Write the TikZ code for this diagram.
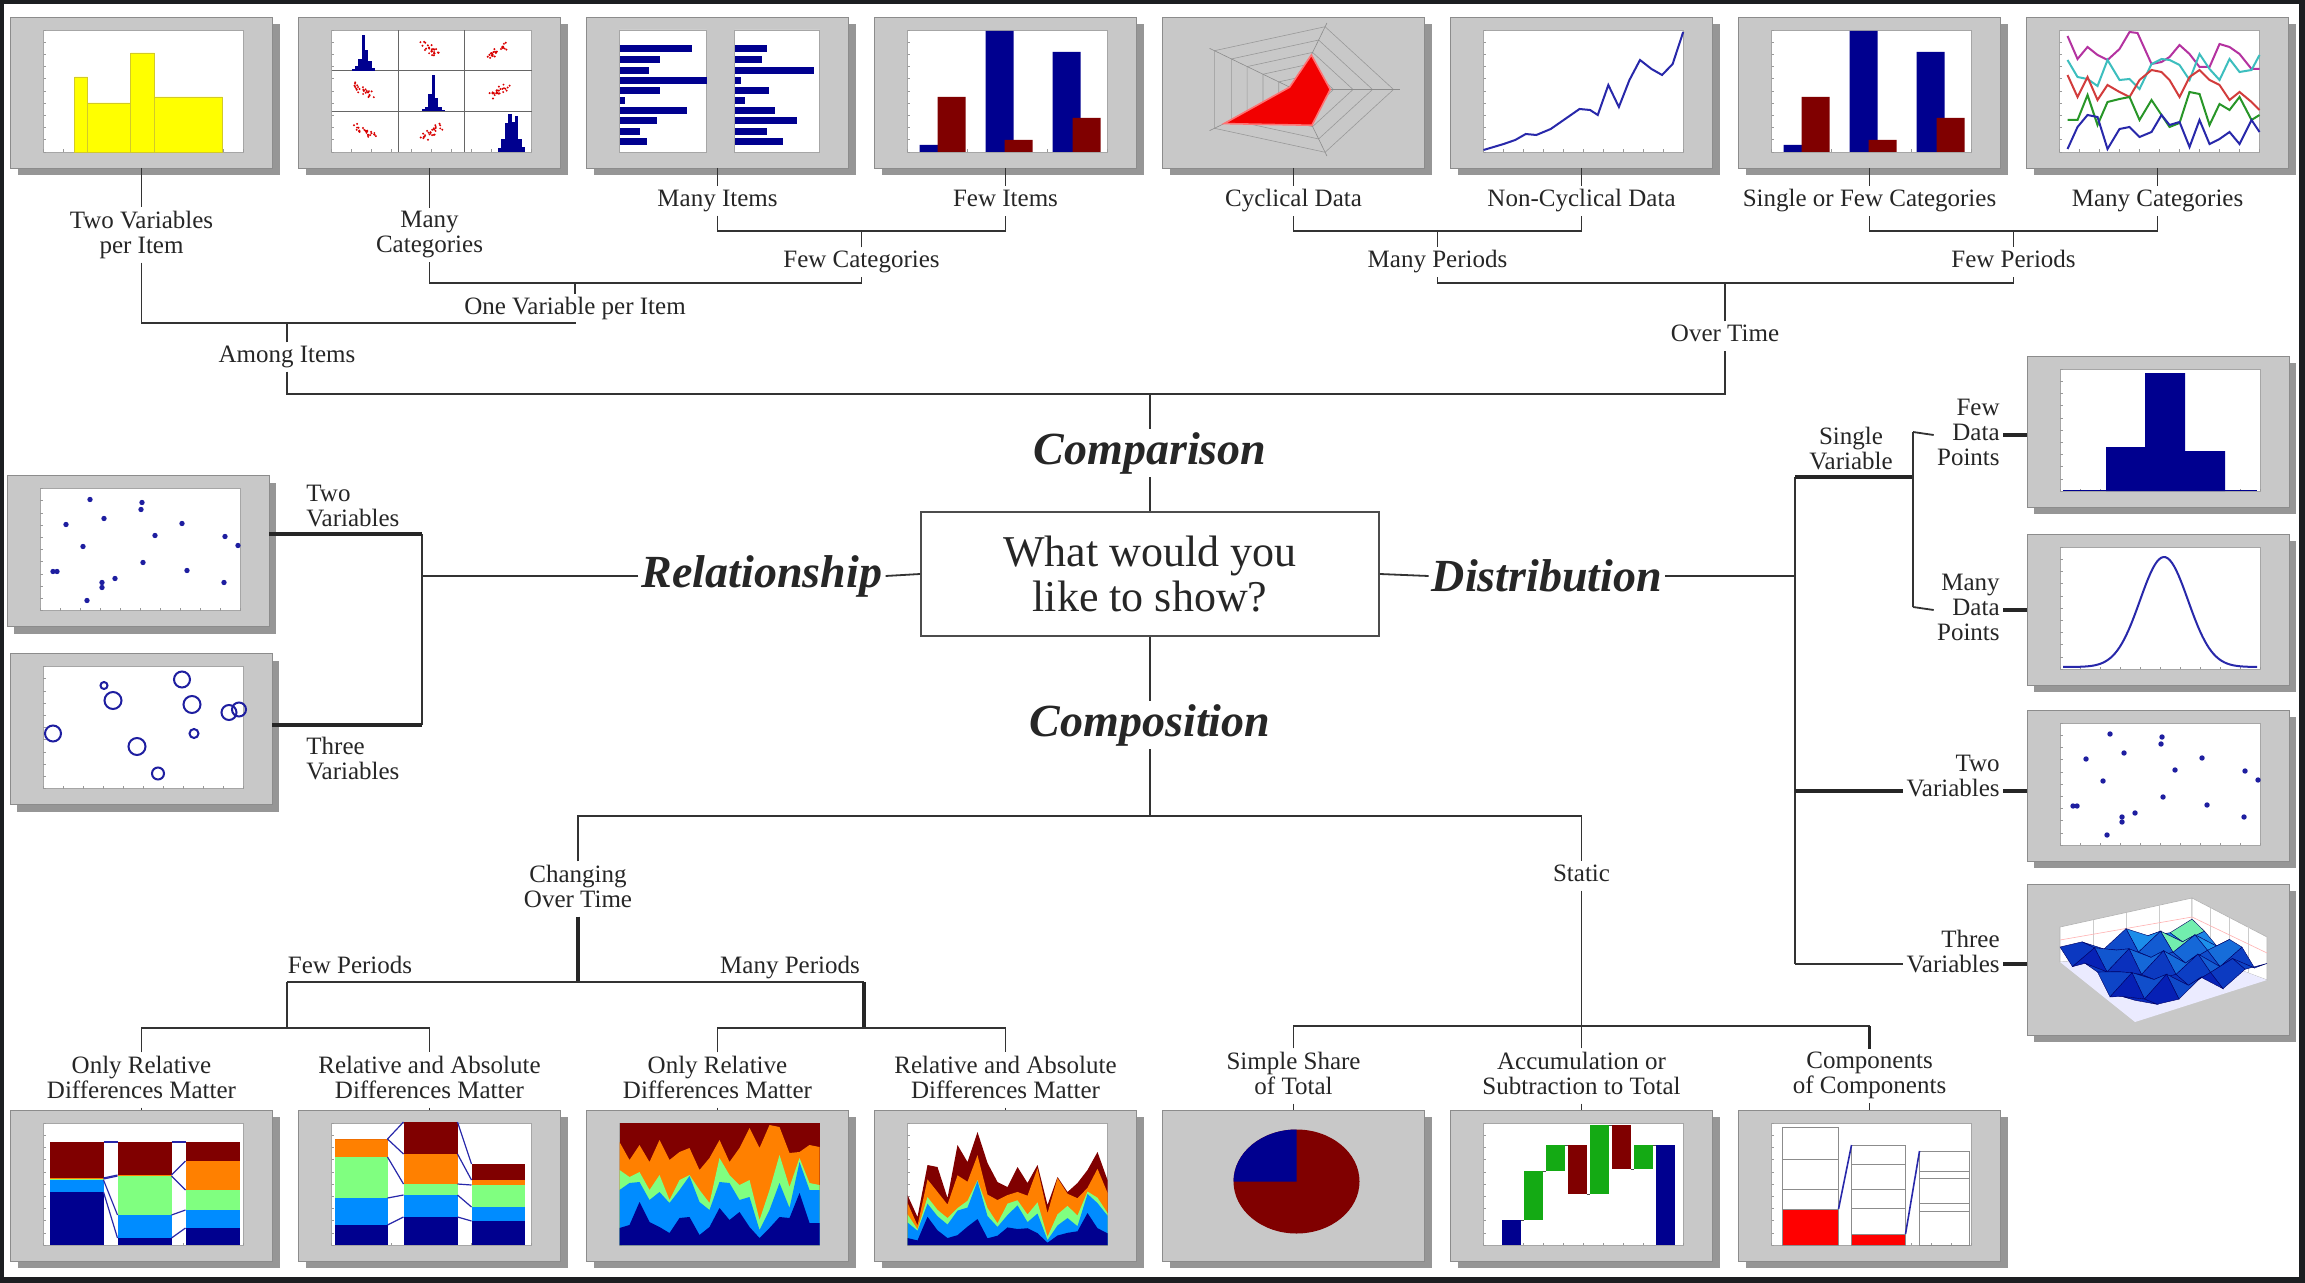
\documentclass[tikz,border=0pt]{standalone}
\usepackage{fontspec}
\setmainfont{Liberation Serif}
\usetikzlibrary{shadows}
\definecolor{navyc}{RGB}{0,0,143}
\definecolor{lbluec}{RGB}{0,140,255}
\definecolor{cyanc}{RGB}{40,200,240}
\definecolor{lgreenc}{RGB}{128,255,128}
\definecolor{orangec}{RGB}{255,128,0}
\definecolor{dredc}{RGB}{128,0,0}
\definecolor{framegray}{RGB}{200,200,200}
\definecolor{shadowgray}{RGB}{150,150,150}
\definecolor{bordark}{RGB}{28,30,33}
\definecolor{dotblue}{RGB}{30,30,160}
\definecolor{wfgreen}{RGB}{20,170,20}
\definecolor{linemag}{RGB}{180,50,160}
\definecolor{linecyan}{RGB}{60,190,190}
\definecolor{linered}{RGB}{210,60,60}
\definecolor{linegreen}{RGB}{40,150,40}
\definecolor{lineblue}{RGB}{40,40,170}
\definecolor{yellowc}{RGB}{255,255,0}
\pgfmathdeclarefunction{sfx}{2}{\pgfmathparse{(1-#1)*(1-#2)*33+#1*(1-#2)*165+#1*#2*240+(1-#1)*#2*108}}
\pgfmathdeclarefunction{sfy}{2}{\pgfmathparse{(1-#1)*(1-#2)*73+#1*(1-#2)*83+#1*#2*55+(1-#1)*#2*13}}
\pgfmathdeclarefunction{sfh}{2}{\pgfmathparse{5+20*(1+sin(#1*137+#2*251))/2*(0.5+0.5*abs(cos(#1*71+#2*113)))+14*#1/6*(1-#2/6)}}
\newcommand\plotbg{%
  \fill[white] (0,0) rectangle (200,122);
  \draw[black!35, line width=0.3pt] (0,0) rectangle (200,122);
  \foreach \k in {0,...,10} {\draw[black!40, line width=0.3pt] ({\k*20},0) -- ++(0,2.5); \draw[black!40, line width=0.3pt] (0,{\k*12.2}) -- ++(2.5,0);}}
\newcommand\stackbar[7]{%
  \fill[navyc] (#1,0) rectangle (#2,#3);
  \fill[lbluec] (#1,#3) rectangle (#2,#4);
  \fill[lgreenc] (#1,#4) rectangle (#2,#5);
  \fill[orangec] (#1,#5) rectangle (#2,#6);
  \fill[dredc] (#1,#6) rectangle (#2,#7);}
\newcommand\stacklinks[3]{\foreach \a/\b in {#3} {\draw[lineblue, line width=0.6pt] (#1,\a) -- (#2,\b);}}
\newcommand\scatterpts{\foreach \p in {(50,111),(102,108),(101,101),(26,86),(64,92),(142,87),(115,75),(185,74),(198,65),(43,64),(13,39),(17,39),(103,48),(147,40),(62,28),(62,23),(75,32),(184,28),(47,10)} {\fill[dotblue] \p circle (2.7);}}
\def\anav{{17,20,43,23,18,12,27,28,10,18,37,25,33,18,7,17,28,27,52,22,22}}
\def\ablu{{55,62,63,45,53,42,55,69,43,35,63,62,45,48,15,35,62,37,83,55,55}}
\def\agrn{{75,68,73,55,70,45,65,70,55,42,87,70,60,65,25,55,90,58,87,62,60}}
\def\aorg{{103,85,100,83,105,85,93,97,75,87,105,83,97,117,97,120,118,92,93,100,98}}
\def\atot{{50,28,80,78,47,100,83,113,82,63,58,78,62,80,40,68,53,62,75,93,65}}
\begin{document}
\begin{tikzpicture}[x=0.5pt,y=-0.5pt,
  thumb/.style={draw=black!45, line width=0.4pt, fill=framegray, minimum width=131pt, minimum height=75.5pt, inner sep=0pt, outer sep=0pt, drop shadow={shadow xshift=3.5pt, shadow yshift=-3.5pt, fill=shadowgray, opacity=1}},
  lbl/.style={font=\fontsize{12.5}{12.5}\selectfont, align=center, inner sep=1.5pt, text depth=3pt, yshift=-1.5pt, text=black!85},
  big/.style={font=\fontsize{23}{26}\selectfont\bfseries\itshape, inner sep=1.5pt, text=black!85},
  qbox/.style={draw=black!70, line width=0.9pt, minimum width=229pt, minimum height=62pt, align=center, font=\fontsize{22}{22.5}\selectfont, text=black!85},
  conn/.style={line width=0.9pt, draw=black!80},
  connb/.style={line width=1.7pt, draw=black!85},
  plotin/.style={shift={(#1.south west)}, xshift=16.5pt, yshift=8pt, y=0.5pt},
  centerin/.style={shift={(#1.center)}, y=0.5pt},
  framein/.style={shift={(#1.south west)}, y=0.5pt}]
\useasboundingbox (0,0) rectangle (2305,1283);
\fill[bordark] (0,0) rectangle (2305,1283);
\fill[white] (4,4) rectangle (2299,1277);

% ---------------- thumbnails ----------------
\foreach \n/\xx in {1/141.5,2/429.5,3/717.5,4/1005.5,5/1293.5,6/1581.5,7/1869.5,8/2157.5}
  {\node[thumb] (t\n) at (\xx,92.5) {};}
\node[thumb] (r1) at (138,551) {};
\node[thumb] (r2) at (141,729) {};
\foreach \n/\yy in {1/431.5,2/609.5,3/785.5,4/959.5}
  {\node[thumb] (d\n) at (2158,\yy) {};}
\foreach \n/\xx in {1/141.5,2/429.5,3/717.5,4/1005.5,5/1293.5,6/1581.5,7/1869.5}
  {\node[thumb] (bb\n) at (\xx,1185.5) {};}

% T1 histogram
\begin{scope}[plotin=t1]
\plotbg
\fill[yellowc, draw=yellow!80!black, line width=0.3pt] (31,0) rectangle (44,75) (44,0) rectangle (87,49) (87,0) rectangle (111,99) (111,0) rectangle (179,55);
\end{scope}
% T2 scatter matrix
\begin{scope}[plotin=t2]
\plotbg
\draw[black!60, line width=0.5pt] (66.7,0) -- (66.7,122) (133.3,0) -- (133.3,122) (0,40.7) -- (200,40.7) (0,81.3) -- (200,81.3);
\foreach \f/\g in {.30/.05,.35/.12,.40/.3,.45/.95,.50/.55,.55/.25,.60/.08} {\fill[navyc] ({\f*66.7},81.3) rectangle ++(3.4,{\g*38});}
\foreach \f/\g in {.35/.05,.40/.12,.45/.45,.50/.95,.55/.35,.60/.1,.65/.04} {\fill[navyc] ({66.7+\f*66.7},40.7) rectangle ++(3.4,{\g*38});}
\foreach \f/\g in {.50/.1,.55/.35,.60/.75,.65/1,.70/.8,.75/.95,.80/.35,.85/.12} {\fill[navyc] ({133.3+\f*66.7},0) rectangle ++(3.4,{\g*38});}
\pgfmathsetseed{42}
\foreach \cx/\cy/\s in {100/101.7/0,166.7/101.7/1,33.3/61/0,166.7/61/1,33.3/20.3/0,100/20.3/1} {
  \foreach \k in {1,...,26} {
    \pgfmathsetmacro\u{rand}\pgfmathsetmacro\v{rand}\pgfmathsetmacro\w{rand}
    \fill[red!85!black] ({\cx+9*\u+3*\v},{\cy+(\s*2-1)*6*\u+4*\w}) circle (1.1);
  }}
\end{scope}
% T3 horizontal bars
\begin{scope}[plotin=t3]
\fill[white, draw=black!35, line width=0.3pt] (0,0) rectangle (87,122) (115,0) rectangle (200,122);
\foreach \yy/\la/\lb in {103/.83/.38,92/.47/.32,81/.34/.93,71/1.0/.08,61/.47/.41,51/.06/.12,41/.77/.48,31/.43/.74,20/.23/.38,10/.32/.57} {
  \fill[navyc] (0,{\yy-3.5}) rectangle ({87*\la},{\yy+3.5});
  \fill[navyc] (115,{\yy-3.5}) rectangle ({115+85*\lb},{\yy+3.5});
}
\end{scope}
% T4 and T7 grouped bars
\foreach \tn in {t4,t7} {
\begin{scope}[plotin=\tn]
\plotbg
\fill[navyc] (12,0) rectangle (40,7) (78,0) rectangle (106,121) (145,0) rectangle (173,100);
\fill[dredc] (30,0) rectangle (58,55) (97,0) rectangle (125,12) (165,0) rectangle (193,34);
\end{scope}}
% T5 radar
\begin{scope}[centerin=t5]
\begin{scope}[xshift=0.5pt, yshift=1.5pt, xscale=1.5]
\foreach \r in {13,26,39,52,66} {\draw[black!40, line width=0.3pt] (0:\r) -- (72:\r) -- (144:\r) -- (216:\r) -- (288:\r) -- cycle;}
\foreach \a in {0,72,144,216,288} {\draw[black!45, line width=0.3pt] (0,0) -- (\a:70);}
\fill[red!95!black, draw=red!55, line width=0.8pt] (0:23.8) -- (72:36.3) -- (144:4) -- (216:58) -- (288:37.6) -- cycle;
\end{scope}
\end{scope}
% T6 rising line
\begin{scope}[plotin=t6]
\plotbg
\draw[lineblue, line width=1pt, xscale=0.96] plot coordinates {(0,2) (21,8) (33,12) (44,18) (55,17) (70,23) (85,33) (100,43) (111,42) (119,37) (130,67) (141,45) (152,72) (163,92) (175,83) (186,77) (197,88) (208,120)};
\end{scope}
% T8 many lines
\begin{scope}[plotin=t8]
\plotbg
\draw[linemag, line width=1pt] plot coordinates {(8,116) (18,93) (28,105) (38,97) (48,92) (60,103) (70,120) (78,119) (92,88) (102,90) (110,95) (120,107) (130,98) (140,85) (150,85) (160,108) (170,105) (180,98) (192,83) (200,83)};
\draw[linecyan, line width=1pt] plot coordinates {(8,92) (18,75) (28,73) (38,66) (48,92) (60,72) (70,73) (80,63) (92,88) (102,93) (110,92) (120,87) (130,72) (140,98) (150,83) (160,72) (170,93) (180,80) (192,82) (200,97)};
\draw[linered, line width=1pt] plot coordinates {(8,77) (18,55) (28,75) (38,52) (48,67) (60,60) (70,55) (80,72) (92,82) (102,80) (110,72) (120,55) (130,75) (140,82) (150,72) (160,67) (170,52) (180,60) (192,50) (200,42)};
\draw[linegreen, line width=1pt] plot coordinates {(8,32) (18,32) (28,57) (38,27) (48,50) (60,53) (70,55) (80,32) (92,52) (102,37) (110,25) (120,29) (130,60) (140,58) (150,27) (160,48) (170,42) (180,55) (192,32) (200,37)};
\draw[lineblue, line width=1pt] plot coordinates {(8,3) (18,25) (28,37) (38,35) (48,3) (60,23) (70,25) (80,15) (92,20) (102,37) (110,27) (120,30) (130,5) (140,32) (150,8) (160,13) (170,20) (180,8) (192,32) (200,20)};
\end{scope}
% Relationship thumbnails
\begin{scope}[plotin=r1]
\plotbg
\scatterpts
\end{scope}
\begin{scope}[plotin=r2]
\plotbg
\foreach \bx/\by/\br in {61/103/3.5,70/88/8.5,139/109/8,149/84/8.5,186/76/7.5,196/79/7,10/55/8,151/55/4.5,94/42/8.5,115/15/6} {\draw[dotblue, line width=1pt] (\bx,\by) circle (\br);}
\end{scope}
% Distribution thumbnails
\begin{scope}[plotin=d1]
\plotbg
\fill[navyc] (46,0) rectangle (85,44) (85,0) rectangle (125,118) (125,0) rectangle (165,40);
\draw[navyc, line width=0.8pt] (3,0.5) -- (197,0.5);
\end{scope}
\begin{scope}[plotin=d2]
\plotbg
\draw[lineblue, line width=1pt, domain=3:197, samples=90] plot (\x, {2+110*exp(-0.5*((\x-104)/24)*((\x-104)/24))});
\end{scope}
\begin{scope}[plotin=d3]
\plotbg
\scatterpts
\end{scope}
\begin{scope}[framein=d4]
\fill[white, draw=black!30, line width=0.3pt] (33,73) -- (33,108) -- (165,137) -- (165,83) -- cycle;
\fill[white, draw=black!30, line width=0.3pt] (165,83) -- (165,137) -- (240,98) -- (240,55) -- cycle;
\foreach \t in {0.25,0.5,0.75} {
  \draw[black!20, line width=0.3pt] ({33+132*\t},{73+10*\t}) -- ({33+132*\t},{108+29*\t});
  \draw[black!20, line width=0.3pt] ({165+75*\t},{83-28*\t}) -- ({165+75*\t},{137-39*\t});
}
\draw[red!30, line width=0.3pt] (33,95) -- (165,118) -- (240,82);
\fill[white!92!blue] (33,73) -- (165,83) -- (240,55) -- (108,13) -- cycle;
\foreach \j in {0,...,5} { \foreach \i in {5,4,...,0} {
  \pgfmathsetmacro\ua{\i/6}\pgfmathsetmacro\ub{(\i+1)/6}
  \pgfmathsetmacro\va{\j/6}\pgfmathsetmacro\vb{(\j+1)/6}
  \pgfmathsetmacro\xa{sfx(\ua,\va)}\pgfmathsetmacro\ya{sfy(\ua,\va)+sfh(\i,\j)}
  \pgfmathsetmacro\xb{sfx(\ub,\va)}\pgfmathsetmacro\yb{sfy(\ub,\va)+sfh(\i+1,\j)}
  \pgfmathsetmacro\xc{sfx(\ub,\vb)}\pgfmathsetmacro\yc{sfy(\ub,\vb)+sfh(\i+1,\j+1)}
  \pgfmathsetmacro\xd{sfx(\ua,\vb)}\pgfmathsetmacro\yd{sfy(\ua,\vb)+sfh(\i,\j+1)}
  \pgfmathsetmacro\hh{(sfh(\i,\j)+sfh(\i+1,\j)+sfh(\i+1,\j+1)+sfh(\i,\j+1))/4}
  \pgfmathtruncatemacro\cc{max(0,min(100,(\hh-10)*7))}
  \ifnum\cc>90
    \fill[fill=cyanc!50!green!60!white, draw=navyc!70!black, line width=0.2pt] (\xa,\ya) -- (\xb,\yb) -- (\xc,\yc) -- (\xd,\yd) -- cycle;
  \else
    \fill[fill=cyanc!\cc!navyc!80!blue, draw=navyc!70!black, line width=0.2pt] (\xa,\ya) -- (\xb,\yb) -- (\xc,\yc) -- (\xd,\yd) -- cycle;
  \fi
}}
\end{scope}
% Composition thumbnails
\begin{scope}[plotin=bb1]
\plotbg
\stackbar{6}{60}{53}{65}{66}{67}{103}
\stackbar{74}{128}{7}{30}{69}{70}{103}
\stackbar{142}{196}{17}{35}{55}{84}{103}
\stacklinks{60}{74}{53/7,65/30,66/69,67/70,103/103}
\stacklinks{128}{142}{7/17,30/35,69/55,70/84,103/103}
\end{scope}
\begin{scope}[plotin=bb2]
\plotbg
\stackbar{3}{56}{20}{47}{88}{106}{106}
\stackbar{72}{126}{28}{50}{61}{91}{123}
\stackbar{140}{193}{24}{38}{60}{65}{81}
\stacklinks{56}{72}{20/28,47/50,88/61,106/91,106/123}
\stacklinks{126}{140}{28/24,50/38,61/60,91/65,123/81}
\end{scope}
\begin{scope}[plotin=bb3]
\plotbg
\fill[dredc] (0,0) rectangle (200,122);
\fill[orangec] (0,0) \foreach \k in {0,...,20} { -- ({\k*10},{\aorg[\k]}) } -- (200,0) -- cycle;
\fill[lgreenc] (0,0) \foreach \k in {0,...,20} { -- ({\k*10},{\agrn[\k]}) } -- (200,0) -- cycle;
\fill[lbluec] (0,0) \foreach \k in {0,...,20} { -- ({\k*10},{\ablu[\k]}) } -- (200,0) -- cycle;
\fill[navyc] (0,0) \foreach \k in {0,...,20} { -- ({\k*10},{\anav[\k]}) } -- (200,0) -- cycle;
\end{scope}
\begin{scope}[plotin=bb4]
\plotbg
\fill[dredc] (0,0) \foreach \k in {0,...,20} { -- ({\k*10},{\atot[\k]}) } -- (200,0) -- cycle;
\fill[orangec] (0,0) \foreach \k in {0,...,20} { -- ({\k*10},{\aorg[\k]*\atot[\k]/122}) } -- (200,0) -- cycle;
\fill[lgreenc] (0,0) \foreach \k in {0,...,20} { -- ({\k*10},{\agrn[\k]*\atot[\k]/122}) } -- (200,0) -- cycle;
\fill[lbluec] (0,0) \foreach \k in {0,...,20} { -- ({\k*10},{\ablu[\k]*\atot[\k]/122}) } -- (200,0) -- cycle;
\fill[navyc] (0,0) \foreach \k in {0,...,20} { -- ({\k*10},{\anav[\k]*\atot[\k]/122}) } -- (200,0) -- cycle;
\end{scope}
\begin{scope}[centerin=bb5]
\fill[dredc] (3,4) ellipse [x radius=63, y radius=52];
\fill[navyc] (3,4) -- (3,56) arc[start angle=90, end angle=180, x radius=63, y radius=52] -- cycle;
\end{scope}
\begin{scope}[plotin=bb6]
\plotbg
\fill[navyc] (18,0) rectangle (37,25);
\fill[wfgreen] (40,25) rectangle (59,74);
\fill[wfgreen] (62,74) rectangle (81,100);
\fill[dredc] (84,51) rectangle (103,100);
\fill[wfgreen] (106,51) rectangle (125,120);
\fill[dredc] (128,76) rectangle (147,120);
\fill[wfgreen] (150,76) rectangle (169,100);
\fill[navyc] (172,0) rectangle (191,100);
\draw[black!70, line width=0.4pt] (37,25) -- (40,25) (59,74) -- (62,74) (81,100) -- (84,100) (103,51) -- (106,51) (125,120) -- (128,120) (147,76) -- (150,76) (169,100) -- (172,100);
\end{scope}
\begin{scope}[plotin=bb7]
\plotbg
\fill[red] (11,0) rectangle (67,36);
\fill[red] (80,0) rectangle (134,11);
\draw[black!45, line width=0.4pt] (11,0) rectangle (67,118) (11,86) -- (67,86) (11,56) -- (67,56) (11,36) -- (67,36);
\draw[black!45, line width=0.4pt] (80,0) rectangle (134,100) (80,81) -- (134,81) (80,56) -- (134,56) (80,37) -- (134,37) (80,11) -- (134,11);
\draw[black!45, line width=0.4pt] (148,0) rectangle (198,94) (148,74) -- (198,74) (148,67) -- (198,67) (148,42) -- (198,42) (148,34) -- (198,34);
\draw[lineblue, line width=0.8pt] (67,36) -- (80,100) (134,11) -- (148,94);
\end{scope}

% ---------------- labels ----------------
\node[lbl] (l1) at (141.5,232) {Two Variables\\per Item};
\node[lbl] (l2) at (429.5,232) {Many\\Categories};
\node[lbl] (l3) at (717.5,198) {Many Items};
\node[lbl] (l4) at (1005.5,198) {Few Items};
\node[lbl] (l5) at (1293.5,198) {Cyclical Data};
\node[lbl] (l6) at (1581.5,198) {Non-Cyclical Data};
\node[lbl] (l7) at (1869.5,198) {Single or Few Categories};
\node[lbl] (l8) at (2157.5,198) {Many Categories};
\node[lbl] (fewcat) at (861.5,259) {Few Categories};
\node[lbl] (manyper) at (1437.5,259) {Many Periods};
\node[lbl] (fewper) at (2013.5,259) {Few Periods};
\node[lbl] (onevar) at (575,306) {One Variable per Item};
\node[lbl] (overtime) at (1725,333) {Over Time};
\node[lbl] (among) at (287,354) {Among Items};

\node[big] (cmp) at (1150,453) {Comparison};
\node[qbox] (q) at (1150,574) {What would you\\like to show?};
\node[big] (rel) at (762,576) {Relationship};
\node[big] (dist) at (1547,576) {Distribution};
\node[big] (cmpz) at (1150,725) {Composition};

\node[lbl, anchor=west, align=left] (tv) at (303,506) {Two\\Variables};
\node[lbl, anchor=west, align=left] (th) at (303,758) {Three\\Variables};

\node[lbl] (sv) at (1851,448) {Single\\Variable};
\node[lbl, anchor=east, align=right] (fdp) at (2003,432) {Few\\Data\\Points};
\node[lbl, anchor=east, align=right] (mdp) at (2003,607) {Many\\Data\\Points};
\node[lbl, anchor=east, align=right] (tv2) at (2003,776) {Two\\Variables};
\node[lbl, anchor=east, align=right] (th2) at (2003,951) {Three\\Variables};

\node[lbl] (chg) at (578,886) {Changing\\Over Time};
\node[lbl] (st) at (1581.5,873) {Static};
\node[lbl] (fp2) at (350,965) {Few Periods};
\node[lbl] (mp2) at (790,965) {Many Periods};
\node[lbl] (bl1) at (141.5,1077) {Only Relative\\Differences Matter};
\node[lbl] (bl2) at (429.5,1077) {Relative and Absolute\\Differences Matter};
\node[lbl] (bl3) at (717.5,1077) {Only Relative\\Differences Matter};
\node[lbl] (bl4) at (1005.5,1077) {Relative and Absolute\\Differences Matter};
\node[lbl] (bl5) at (1293.5,1073) {Simple Share\\of Total};
\node[lbl] (bl6) at (1581.5,1073) {Accumulation or\\Subtraction to Total};
\node[lbl] (bl7) at (1869.5,1073) {Components\\of Components};

% ---------------- coordinates ----------------
\coordinate (yA) at (0,231);
\coordinate (yB) at (0,283);
\coordinate (yC) at (0,323);
\coordinate (yD) at (0,394);
\coordinate (rj1) at (422,534);
\coordinate (rj2) at (422,725);
\coordinate (rjm) at (422,576);
\coordinate (dj) at (1795,576);
\coordinate (dj1) at (1795,477);
\coordinate (dj3) at (1795,791);
\coordinate (dj4) at (1795,964);
\coordinate (sj) at (1913,477);
\coordinate (sj1) at (1913,432);
\coordinate (sj2) at (1913,607);
\coordinate (yE) at (0,816);
\coordinate (cf) at (287,982);
\coordinate (cm) at (864,982);
\coordinate (yF) at (0,1028);
\coordinate (yG) at (0,1026);

% ---------------- connectors: comparison ----------------
\foreach \n in {1,...,8} {\draw[conn] (t\n.south) -- (l\n.north);}
\draw[conn] (l3.south) |- (l4.south |- yA) -- (l4.south);
\draw[conn] (fewcat.north) -- (fewcat.north |- yA);
\draw[conn] (l5.south) |- (l6.south |- yA) -- (l6.south);
\draw[conn] (manyper.north) -- (manyper.north |- yA);
\draw[conn] (l7.south) |- (l8.south |- yA) -- (l8.south);
\draw[conn] (fewper.north) -- (fewper.north |- yA);
\draw[conn] (l2.south) |- (fewcat.south |- yB) -- (fewcat.south);
\draw[conn] (onevar.north) -- (onevar.north |- yB);
\draw[conn] (manyper.south) |- (fewper.south |- yB) -- (fewper.south);
\draw[conn] (overtime.north) -- (overtime.north |- yB);
\draw[conn] (l1.south) |- (onevar.south |- yC) -- (onevar.south);
\draw[conn] (among.north) -- (among.north |- yC);
\draw[conn] (among.south) |- (overtime.south |- yD) -- (overtime.south);
\draw[conn] (cmp.north) -- (cmp.north |- yD);
\draw[conn] (cmp.south) -- (q.north);

% ---------------- relationship ----------------
\draw[conn] (q.west) -- (rel.east);
\draw[conn] (rel.west) -- (rjm);
\draw[conn] (rj1) -- (rj2);
\draw[connb] (r1.east |- rj1) -- (rj1);
\draw[connb] (r2.east |- rj2) -- (rj2);

% ---------------- distribution ----------------
\draw[conn] (q.east) -- (dist.west);
\draw[conn] (dist.east) -- (dj);
\draw[conn] (dj1) -- (dj4);
\draw[connb] (dj1) -- (sj);
\draw[conn] (sj1) -- (sj2);
\draw[conn] (sj1) -- (fdp.west);
\draw[conn] (sj2) -- (mdp.west);
\draw[connb] (dj3) -- (tv2.west |- dj3);
\draw[conn] (dj4) -- (th2.west |- dj4);
\draw[connb] (fdp.east) -- (d1.west |- fdp.east);
\draw[connb] (mdp.east) -- (d2.west |- mdp.east);
\draw[connb] (tv2.east |- dj3) -- (d3.west |- dj3);
\draw[connb] (th2.east |- dj4) -- (d4.west |- dj4);

% ---------------- composition ----------------
\draw[conn] (q.south) -- (cmpz.north);
\draw[conn] (cmpz.south) -- (cmpz.south |- yE);
\draw[conn] (chg.north) |- (st.north |- yE) -- (st.north);
\draw[connb] (chg.south) -- (chg.south |- cf);
\draw[conn] (cf) -- (cm);
\draw[conn] (cf) -- (cf |- yF);
\draw[connb] (cm) -- (cm |- yF);
\draw[conn] (bl1.north) |- (bl2.north |- yF) -- (bl2.north);
\draw[conn] (bl3.north) |- (bl4.north |- yF) -- (bl4.north);
\draw[conn] (st.south) -- (st.south |- yG);
\draw[conn] (bl5.north) |- (bl7.north |- yG);
\draw[connb] (bl7.north |- yG) -- (bl7.north);
\draw[conn] (bl6.north) -- (bl6.north |- yG);
\foreach \n in {1,...,7} {\draw[conn] (bl\n.south) -- (bb\n.north);}
\end{tikzpicture}
\end{document}
